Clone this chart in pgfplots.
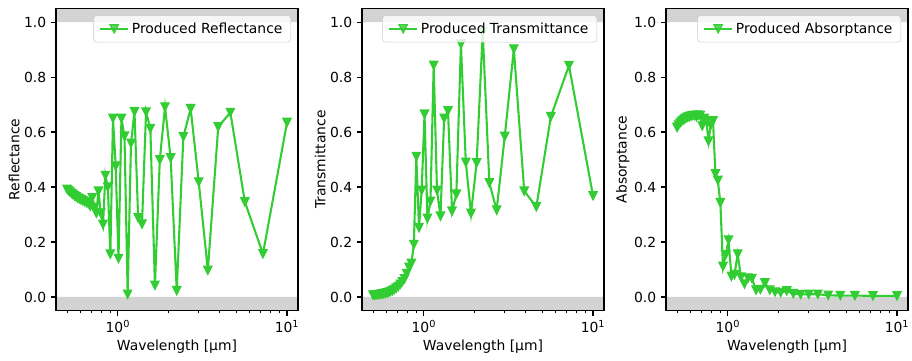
\documentclass[border=0pt]{standalone}
\usepackage{fontspec}
\setmainfont{DejaVu Sans}
\usepackage{pgfplots}
\pgfplotsset{compat=1.18}
\usepackage{pgfplotstable}
\definecolor{lime}{HTML}{32CD32}
\definecolor{band}{HTML}{D3D3D3}
\definecolor{legframe}{HTML}{CCCCCC}

\pgfdeclareplotmark{mtri}{%
  \pgfpathmoveto{\pgfqpoint{0pt}{-\pgfplotmarksize}}%
  \pgfpathlineto{\pgfqpoint{-\pgfplotmarksize}{\pgfplotmarksize}}%
  \pgfpathlineto{\pgfqpoint{\pgfplotmarksize}{\pgfplotmarksize}}%
  \pgfpathclose
  \pgfusepathqfillstroke}

\pgfplotstableread{
lam R T A
10.0000 0.635 0.368 0.004
7.2059 0.157 0.842 0.004
5.6322 0.346 0.656 0.005
4.6226 0.671 0.328 0.005
3.9200 0.619 0.385 0.006
3.4028 0.097 0.902 0.010
3.0061 0.418 0.584 0.010
2.6923 0.685 0.316 0.009
2.4378 0.583 0.415 0.012
2.2273 0.023 0.965 0.022
2.0502 0.506 0.488 0.016
1.8992 0.691 0.304 0.018
1.7690 0.499 0.490 0.025
1.6554 0.042 0.920 0.051
1.5556 0.613 0.374 0.027
1.4671 0.673 0.312 0.025
1.3881 0.265 0.677 0.067
1.3172 0.288 0.650 0.069
1.2532 0.674 0.294 0.047
1.1951 0.559 0.388 0.072
1.1422 0.010 0.843 0.156
1.0938 0.585 0.348 0.081
1.0493 0.650 0.286 0.075
1.0082 0.140 0.665 0.207
0.9703 0.476 0.388 0.153
0.9351 0.650 0.252 0.111
0.9024 0.156 0.511 0.343
0.8719 0.400 0.191 0.424
0.8434 0.442 0.122 0.448
0.8167 0.264 0.108 0.641
0.7916 0.305 0.085 0.625
0.7680 0.385 0.066 0.567
0.7458 0.305 0.055 0.640
0.7249 0.325 0.046 0.650
0.7050 0.361 0.038 0.622
0.6863 0.330 0.032 0.660
0.6685 0.340 0.027 0.662
0.6516 0.343 0.023 0.655
0.6355 0.347 0.020 0.661
0.6203 0.350 0.017 0.660
0.6057 0.353 0.015 0.658
0.5918 0.357 0.013 0.656
0.5785 0.360 0.012 0.654
0.5658 0.364 0.011 0.651
0.5537 0.368 0.010 0.647
0.5420 0.373 0.009 0.643
0.5309 0.377 0.008 0.638
0.5202 0.382 0.008 0.632
0.5099 0.387 0.007 0.625
0.5000 0.392 0.007 0.617
}\data

\pgfplotsset{
  every axis/.append style={
    width=174.24pt, height=217.7pt, scale only axis,
    xmin=0.4305, xmax=11.61, ymin=-0.05, ymax=1.05,
    xtick={1,10}, xticklabels={10\textsuperscript{0},10\textsuperscript{1}},
    minor xtick={0.5,0.6,0.7,0.8,0.9,2,3,4,5,6,7,8,9},
    ytick={0,0.2,0.4,0.6,0.8,1.0},
    yticklabels={0.0,0.2,0.4,0.6,0.8,1.0},
    tick align=outside, tick pos=left,
    major tick length=3.5pt, minor tick length=2pt,
    every major tick/.style={black, line width=0.8pt},
    every minor tick/.style={black, line width=0.6pt},
    axis line style={line width=0.8pt},
    axis on top,
    xlabel={Wavelength [µm]},
    ylabel shift=-3.5pt,
    xlabel shift=-1.5pt,
    legend style={at={(1,1)}, anchor=north east, xshift=-5pt, yshift=-5pt,
      draw=legframe, rounded corners=2pt, fill=white, fill opacity=0.8, text opacity=1,
      draw opacity=1, inner xsep=4pt, inner ysep=3pt},
    legend cell align=left,
  },
  legend image code/.code={\draw[mark repeat=2, mark phase=2] plot coordinates {(0pt,0pt) (10pt,0pt) (20pt,0pt)};},
  myline/.style={lime, line width=1.5pt, mark=mtri, mark size=3pt,
    mark options={solid, fill=lime, draw=lime, line width=0.8pt}},
}

\begin{document}
\fontsize{10}{12}\selectfont
\begin{tikzpicture}
\useasboundingbox (0,0) rectangle (656.64pt,259.92pt);
\begin{semilogxaxis}[at={(40.32pt,36.2pt)}, anchor=south west, ylabel={Reflectance}]
\addplot[draw=none, fill=band, forget plot] coordinates {(0.3,-0.1) (15,-0.1) (15,0) (0.3,0) (0.3,-0.1)};
\addplot[draw=none, fill=band, forget plot] coordinates {(0.3,1) (15,1) (15,1.1) (0.3,1.1) (0.3,1)};
\addplot[myline] table[x=lam, y=R] {\data};
\addlegendentry{Produced Reflectance}
\end{semilogxaxis}
\begin{semilogxaxis}[at={(260.64pt,36.2pt)}, anchor=south west, ylabel={Transmittance}]
\addplot[draw=none, fill=band, forget plot] coordinates {(0.3,-0.1) (15,-0.1) (15,0) (0.3,0) (0.3,-0.1)};
\addplot[draw=none, fill=band, forget plot] coordinates {(0.3,1) (15,1) (15,1.1) (0.3,1.1) (0.3,1)};
\addplot[myline] table[x=lam, y=T] {\data};
\addlegendentry{Produced Transmittance}
\end{semilogxaxis}
\begin{semilogxaxis}[at={(479.52pt,36.2pt)}, anchor=south west, ylabel={Absorptance}]
\addplot[draw=none, fill=band, forget plot] coordinates {(0.3,-0.1) (15,-0.1) (15,0) (0.3,0) (0.3,-0.1)};
\addplot[draw=none, fill=band, forget plot] coordinates {(0.3,1) (15,1) (15,1.1) (0.3,1.1) (0.3,1)};
\addplot[myline] table[x=lam, y=A] {\data};
\addlegendentry{Produced Absorptance}
\end{semilogxaxis}
\end{tikzpicture}
\end{document}
